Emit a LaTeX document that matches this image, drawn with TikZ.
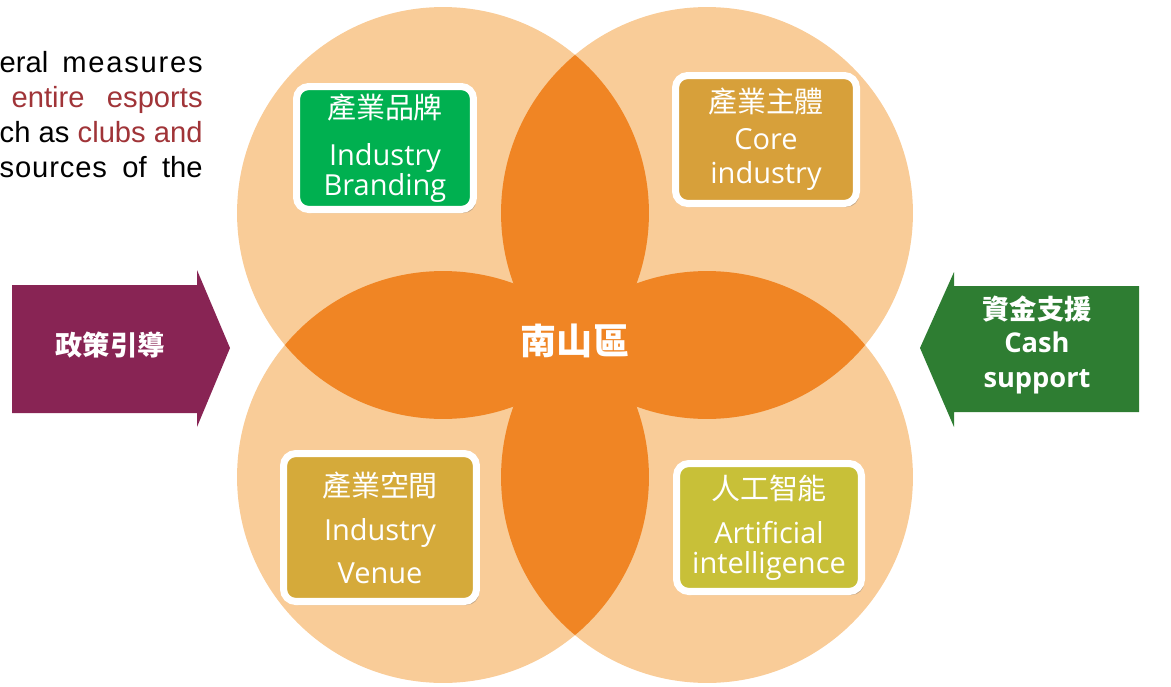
\documentclass[tikz,border=0pt]{standalone}
\usepackage{fontspec}
\setmainfont{Open Sans}
\newfontfamily\cjk{Noto Sans CJK TC}
\newfontfamily\arialfont{Liberation Sans}
\usepackage{tikz}
\usetikzlibrary{shadows}

\definecolor{petal}{RGB}{249,204,152}
\definecolor{core}{RGB}{240,133,36}
\definecolor{brandgreen}{RGB}{0,176,80}
\definecolor{coregold}{RGB}{215,160,58}
\definecolor{venuegold}{RGB}{213,170,58}
\definecolor{aiolive}{RGB}{200,192,56}
\definecolor{policy}{RGB}{136,36,84}
\definecolor{fund}{RGB}{46,125,50}
\definecolor{accent}{RGB}{160,52,56}

\begin{document}
\begin{tikzpicture}[
  x=0.02cm, y=-0.02cm,
  card/.style={rectangle, rounded corners=7pt, draw=white, line width=4pt, text=white, align=center, inner sep=0pt,
    font=\fontsize{16.5}{17}\selectfont,
    drop shadow={shadow xshift=1.5pt, shadow yshift=-2pt, opacity=0.35, fill=black!60}},
  banner/.style={text=white, align=center, font=\bfseries\fontsize{15.5}{17}\selectfont},
  note/.style={anchor=base east, inner sep=0pt, font=\arialfont\fontsize{16.6}{17}\selectfont}
]
  \useasboundingbox (0,0) rectangle (1171,687);

  % four overlapping circles
  \foreach \cx/\cy [count=\i] in {443/213, 707/213, 443/477, 707/477}
    \coordinate (c\i) at (\cx,\cy);
  \foreach \i in {1,...,4}
    \fill[petal] (c\i) circle[radius=4.12cm];

  % overlaps in the darker orange
  \foreach \a/\b in {1/2, 1/3, 2/4, 3/4, 1/4, 2/3} {
    \begin{scope}
      \clip (c\a) circle[radius=4.12cm];
      \fill[core] (c\b) circle[radius=4.12cm];
    \end{scope}
  }

  % side arrows
  \fill[policy] (12,285) -- (197,285) -- (197,270) -- (230,348) -- (197,427) -- (197,413) -- (12,413) -- cycle;
  \node[banner] (guide) at (110,345) {\cjk 政策引導};

  \fill[fund] (1139,286) -- (954,286) -- (954,272) -- (920,348) -- (954,427) -- (954,412) -- (1139,412) -- cycle;
  \node[banner] (cash) at (1037,345) {{\cjk 資金支援}\\[1.8pt] Cash\\[2.9pt] support};

  % centre label
  \node[text=white, font=\cjk\bfseries\fontsize{20.5}{22}\selectfont] (hub) at (575,341) {南山區};

  % the four cards
  \node[card, fill=brandgreen, minimum width=3.54cm, minimum height=2.46cm] (branding) at (385,148)
    {{\cjk 產業品牌}\\[9.7pt] Industry\\ Branding};
  \node[card, fill=coregold, minimum width=3.62cm, minimum height=2.56cm] (coreind) at (766,139.5)
    {{\cjk 產業主體}\\[4pt] Core\\[2.4pt] industry};
  \node[card, fill=venuegold, minimum width=3.86cm, minimum height=2.96cm] (venue) at (380,527.5)
    {{\cjk 產業空間}\\[8pt] Industry\\[7.5pt] Venue};
  \node[card, fill=aiolive, minimum width=3.70cm, minimum height=2.56cm] (ai) at (769,527.5)
    {{\cjk 人工智能}\\[8pt] Artificial\\ intelligence};

  % text running in from the left
  \node[note] (l1) at (203,72) {\makebox[4.06cm][s]{eral {\addfontfeature{LetterSpace=6}measures}}};
  \node[note, text=accent] (l2) at (203,107) {\makebox[3.82cm][s]{entire esports}};
  \node[note] (l3) at (203,142) {\makebox[4.06cm][s]{ch as \textcolor{accent}{clubs and}}};
  \node[note] (l4) at (203,177) {\makebox[4.06cm][s]{{\addfontfeature{LetterSpace=3}sources} of the}};
\end{tikzpicture}
\end{document}
